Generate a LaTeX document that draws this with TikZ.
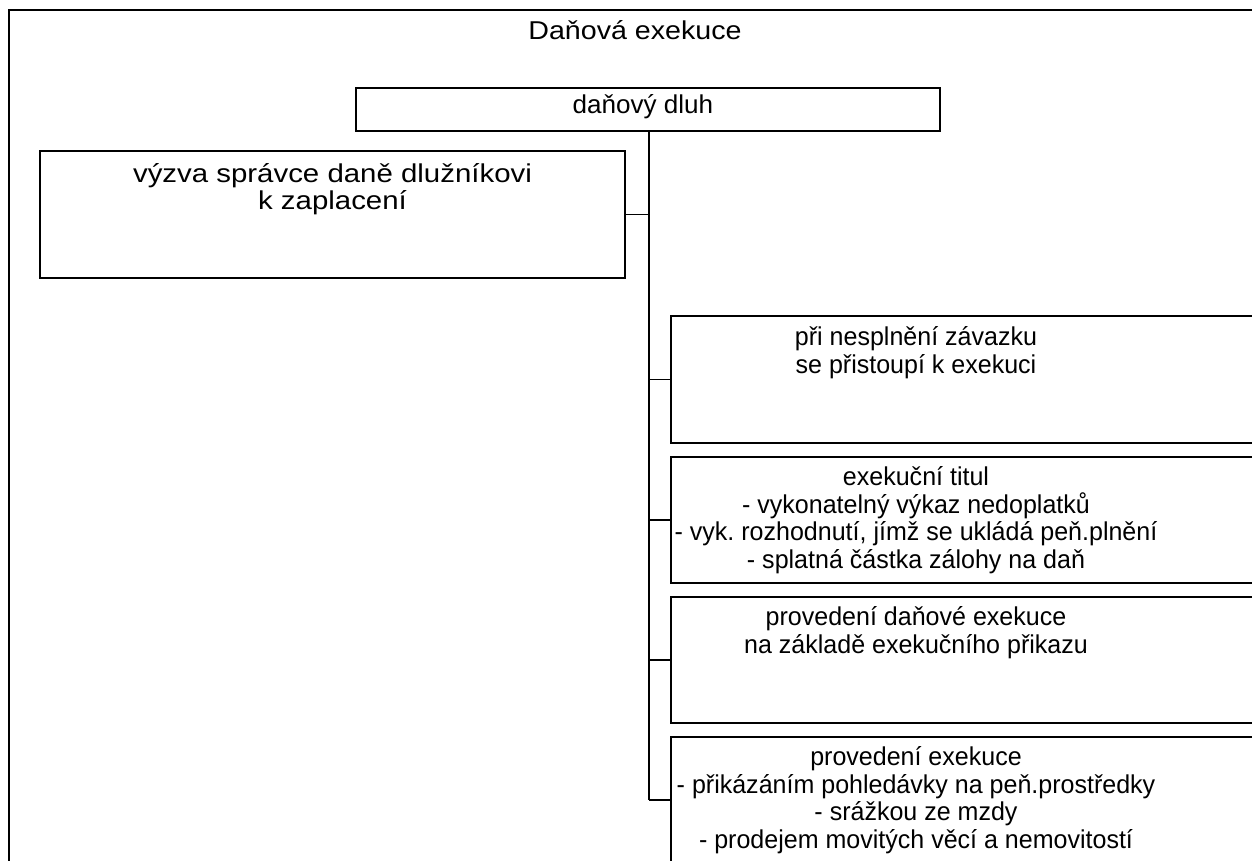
\documentclass[tikz,border=0pt]{standalone}
\usepackage{fontspec}
\setmainfont{Liberation Sans}
\newfontfamily\titlef[FakeStretch=1.11]{Liberation Sans}
\newfontfamily\dluhf[FakeStretch=1.01]{Liberation Sans}
\newfontfamily\leftf[FakeStretch=1.14]{Liberation Sans}
\newfontfamily\rightf[FakeStretch=0.97]{Liberation Sans}
\newcommand\tstrut{\rule{0pt}{25pt}}
\begin{document}
\frenchspacing
\begin{tikzpicture}[x=1pt,y=-1pt,
  box/.style={draw=black,line width=2pt,rectangle,inner sep=0pt},
  txt/.style={inner sep=0pt,align=center,font=\fontsize{25.8}{27.8}\rightf},
  link/.style={draw=black,line width=1.8pt}]
\useasboundingbox (0,0) rectangle (1252,861);
% outer frame
\draw[line width=2.6pt] (9,10) rectangle (1290,890);
\node[txt,anchor=base,font=\fontsize{25.8}{27.8}\titlef] (title) at (635,40) {Daňová exekuce};
% top box
\node[box,minimum width=584pt,minimum height=43pt] (dluh) at (648,109.5) {};
\node[txt,anchor=base,font=\fontsize{25.8}{27.8}\dluhf] (dluhT) at (643,114) {daňový dluh};
% left box
\node[box,minimum width=585pt,minimum height=127pt] (left) at (332.5,214.5) {};
\node[txt,anchor=north,font=\fontsize{25.8}{27.5}\leftf] (leftT) at (332.5,157) {\tstrut výzva správce daně dlužníkovi\\k zaplacení};
% right boxes
\node[box,minimum width=620pt,minimum height=127pt] (r1) at (981,379.5) {};
\node[txt,anchor=north] (r1T) at (916,320) {\tstrut při nesplnění závazku\\se přistoupí k exekuci};
\node[box,minimum width=620pt,minimum height=126pt] (r2) at (981,520) {};
\node[txt,anchor=north] (r2T) at (916,460) {\tstrut exekuční titul\\- vykonatelný výkaz nedoplatků\\- vyk. rozhodnutí, jímž se ukládá peň.plnění\\- splatná částka zálohy na daň};
\node[box,minimum width=620pt,minimum height=126pt] (r3) at (981,660) {};
\node[txt,anchor=north] (r3T) at (916,600) {\tstrut provedení daňové exekuce\\na základě exekučního přikazu};
\node[box,minimum width=620pt,minimum height=126pt] (r4) at (981,800) {};
\node[txt,anchor=north] (r4T) at (916,740) {\tstrut provedení exekuce\\- přikázáním pohledávky na peň.prostředky\\- srážkou ze mzdy\\- prodejem movitých věcí a nemovitostí};
% connectors
\coordinate (tb) at (649,800);
\draw[link,line width=2pt] (dluh.south -| tb) -- (tb);
\draw[link] (left.east) -- (left.east -| tb);
\draw[link] (r1.west) -- (r1.west -| tb);
\draw[link] (r2.west) -- (r2.west -| tb);
\draw[link] (r3.west) -- (r3.west -| tb);
\draw[link] (r4.west) -- (tb);
\end{tikzpicture}
\end{document}
